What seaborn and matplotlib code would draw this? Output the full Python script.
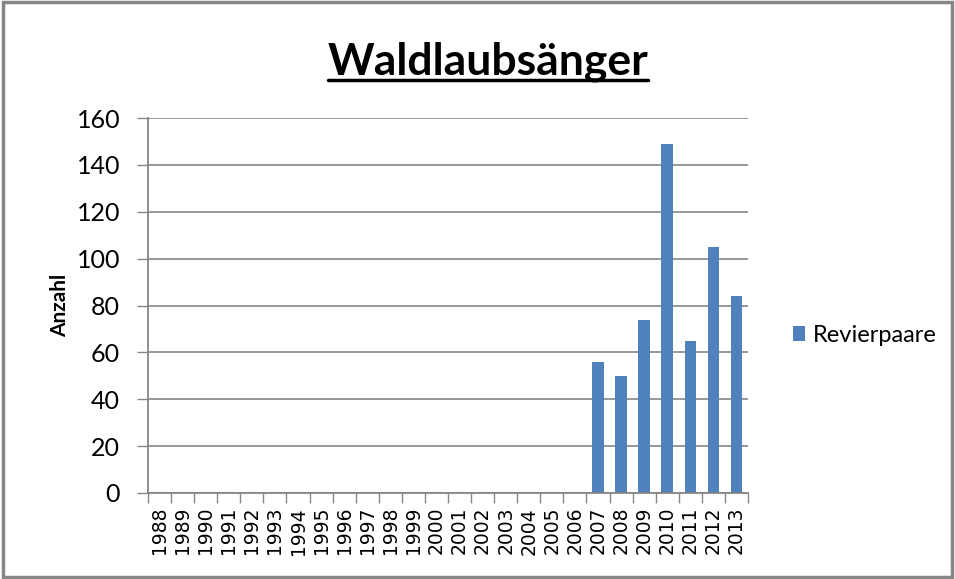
import numpy as np
import pandas as pd
import seaborn as sns
import matplotlib.pyplot as plt
from matplotlib.lines import Line2D
from matplotlib.patches import Rectangle

# Data
YEARS = [str(y) for y in range(1988, 2014)]
PAIRS = [0, 0, 0, 0, 0, 0, 0, 0, 0, 0, 0, 0, 0, 0, 0, 0, 0, 0, 0,
         56, 50, 74, 149, 65, 105, 84]
SERIES = "Revierpaare"
BAR_COLOR = "#4f81bd"
GRID_COLOR = "#868686"

df = pd.DataFrame({"Jahr": YEARS, "Anzahl": PAIRS, "Reihe": SERIES})

sns.set_style("white")
plt.rcParams["font.family"] = ["Lato", "DejaVu Sans"]
plt.rcParams["text.color"] = "black"

fig = plt.figure(figsize=(9.55, 5.79), dpi=100)
ax = fig.add_axes([148 / 955, 1 - 493 / 579, 600 / 955, 375 / 579])

sns.barplot(data=df, x="Jahr", y="Anzahl", hue="Reihe", palette=[BAR_COLOR],
            width=0.5, ax=ax, legend=True, saturation=1, linewidth=0)

ax.set_ylim(0, 160)
ax.set_xlim(-0.5, len(YEARS) - 0.5)
ax.set_yticks(np.arange(0, 161, 20))
ax.yaxis.grid(True, color=GRID_COLOR, linewidth=1.2)
ax.set_axisbelow(True)
for s in ["top", "right"]:
    ax.spines[s].set_visible(False)
for s in ["left", "bottom"]:
    ax.spines[s].set_color(GRID_COLOR)
    ax.spines[s].set_linewidth(1.3)

ax.tick_params(axis="y", length=8, width=1, color=GRID_COLOR, labelsize=18,
               labelcolor="black", pad=12, left=True)
ax.tick_params(axis="x", which="major", length=0, labelsize=13.5, rotation=90, pad=10,
               labelcolor="black")
for lab in ax.get_xticklabels():
    lab.set_fontfamily(["DejaVu Sans"])
ax.set_xticks(np.arange(len(YEARS) + 1) - 0.5, minor=True)
ax.tick_params(axis="x", which="minor", length=7, color=GRID_COLOR, width=1, bottom=True)

ax.set_xlabel("")
ax.set_ylabel("Anzahl", fontsize=15, fontweight="bold", color="black", labelpad=5)

# legend outside right
handles, labels = ax.get_legend_handles_labels()
ax.legend(handles, labels, loc="center left", bbox_to_anchor=(772 / 955, 1 - 335 / 579),
          bbox_transform=fig.transFigure, frameon=False, handlelength=0.5,
          handleheight=0.6, handletextpad=0.35,
          prop={"family": "Lato", "size": 17})

# title with underline
title = fig.text(488 / 955, 1 - 62 / 579, "Waldlaubsänger", ha="center", va="center",
                 fontsize=32, fontweight="bold", color="black")
fig.canvas.draw()
bb = title.get_window_extent(renderer=fig.canvas.get_renderer())
y_line = (bb.y0 + 2) / fig.bbox.height
fig.add_artist(Line2D([bb.x0 / fig.bbox.width, bb.x1 / fig.bbox.width], [y_line, y_line],
                      transform=fig.transFigure, color="black", linewidth=2.5))

# outer border
fig.add_artist(Rectangle((0.003, 0.003), 0.994, 0.994, transform=fig.transFigure,
                         fill=False, edgecolor=GRID_COLOR, linewidth=2.5))

fig.savefig("out.png", dpi=100)
